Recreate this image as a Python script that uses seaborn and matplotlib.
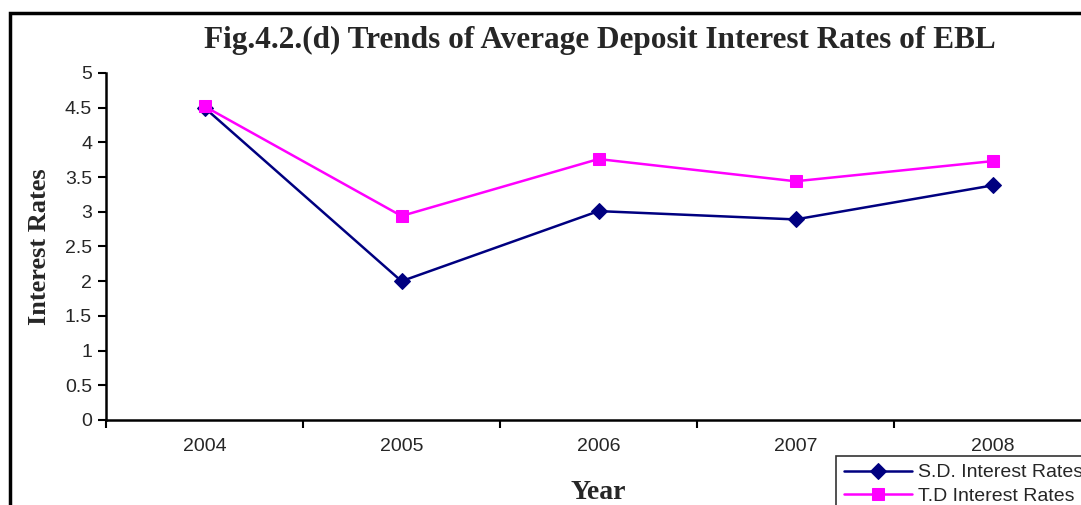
import matplotlib
matplotlib.use("Agg")
import matplotlib.pyplot as plt
import seaborn as sns
import pandas as pd
from matplotlib.patches import Rectangle
from matplotlib.ticker import FixedLocator

years = ["2004", "2005", "2006", "2007", "2008"]
sd_rates = [4.5, 2.0, 3.01, 2.89, 3.38]
td_rates = [4.52, 2.94, 3.76, 3.44, 3.73]

sns.set_style("white")
plt.rcParams['font.family'] = ['Liberation Sans', 'DejaVu Sans']

fig = plt.figure(figsize=(10.81, 5.05), dpi=100)
W, H = 1081, 505
ax = fig.add_axes([106 / W, 85 / H, (1091 - 106) / W, 347 / H])

df = pd.DataFrame({"Year": years, "sd": sd_rates, "td": td_rates})
sns.lineplot(data=df, x="Year", y="sd", ax=ax, color="#000080", marker="D",
             markersize=8, markeredgecolor="#000080", lw=1.8, label="S.D. Interest Rates")
sns.lineplot(data=df, x="Year", y="td", ax=ax, color="#FF00FF", marker="s",
             markersize=8, markeredgecolor="#FF00FF", lw=1.8, label="T.D Interest Rates")

ax.set_xlim(-0.5, 4.5)
ax.set_ylim(0, 5)
ax.set_yticks([0, 0.5, 1, 1.5, 2, 2.5, 3, 3.5, 4, 4.5, 5])
ax.set_yticklabels(["0", "0.5", "1", "1.5", "2", "2.5", "3", "3.5", "4", "4.5", "5"])
ax.tick_params(axis="y", length=6, width=1.5, color="black", labelsize=14, pad=4, left=True)
ax.tick_params(axis="x", which="major", length=0, labelsize=14, pad=13)
ax.xaxis.set_minor_locator(FixedLocator([-0.5, 0.5, 1.5, 2.5, 3.5, 4.5]))
ax.tick_params(axis="x", which="minor", length=6, width=1.5, color="black", bottom=True)

for s in ["top", "right"]:
    ax.spines[s].set_visible(False)
for s in ["left", "bottom"]:
    ax.spines[s].set_color("black")
    ax.spines[s].set_linewidth(1.8)

ax.set_xlabel("Year", family="Liberation Serif", fontweight="bold", fontsize=20, labelpad=18)
ax.set_ylabel("Interest Rates", family="Liberation Serif", fontweight="bold", fontsize=19, labelpad=10)

fig.text(600 / W, 1 - 40 / H, "Fig.4.2.(d) Trends of Average Deposit Interest Rates of EBL",
         family="Liberation Serif", fontweight="bold", fontsize=22.5, ha="center", va="center")

fig.patches.append(Rectangle((10 / W, -0.1), 1.2, 1 - 13 / H + 0.1, transform=fig.transFigure,
                             fill=False, edgecolor="black", lw=2.5))

leg = ax.legend(loc="upper left", bbox_to_anchor=(836 / W, 1 - 456 / H),
                bbox_transform=fig.transFigure, fontsize=14, frameon=True, fancybox=False,
                borderaxespad=0, handlelength=3.5, handletextpad=0.3, labelspacing=0.3,
                borderpad=0.4)
leg.get_frame().set_edgecolor("black")
leg.get_frame().set_linewidth(1.2)

fig.savefig("out.png", dpi=100)
